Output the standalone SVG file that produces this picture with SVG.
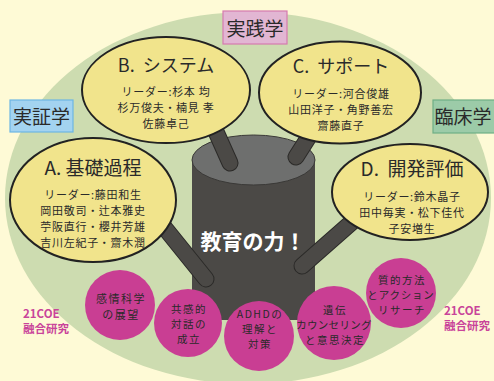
<svg xmlns="http://www.w3.org/2000/svg" width="494" height="381" viewBox="0 0 494 381">
<style>
text{font-family:"Noto Sans CJK JP","Noto Sans",sans-serif;fill:#2a2a2a;text-anchor:middle}
.node ellipse{fill:#f1e48c;stroke:#222;stroke-width:2}
.ttl{font-size:18px;white-space:pre}
.ln{font-size:11px;letter-spacing:0.7px}
.cir circle{fill:#c93e93}
.ct{font-size:10.5px;letter-spacing:1.5px}
.br{fill:none;stroke-linecap:round}
.bo{stroke:#2b2a28;stroke-width:17}
.bi{stroke:#4b4946;stroke-width:15}
.lab{font-size:19px}
.coe{font-size:11.5px;font-weight:bold;fill:#c9449a;text-anchor:start}
</style>
<rect width="494" height="381" fill="#fefad6"/>
<ellipse cx="248" cy="198" rx="243" ry="186" fill="#cddcb0"/>
<g id="trunk">
<rect x="192" y="160" width="123" height="160" fill="#4b4946"/>
<ellipse cx="253.5" cy="160" rx="61.5" ry="25" fill="#6e6f6e" stroke="#3a3937" stroke-width="1"/>
</g>
<g id="connectors">
<line class="br bo" x1="213" y1="125" x2="230" y2="163"/>
<line class="br bi" x1="213" y1="125" x2="230" y2="163"/>
<line class="br bo" x1="310" y1="135" x2="296" y2="157"/>
<line class="br bi" x1="310" y1="135" x2="296" y2="157"/>
<line class="br bo" x1="160" y1="222" x2="206" y2="279"/>
<line class="br bi" x1="160" y1="222" x2="206" y2="279"/>
<line class="br bo" x1="352" y1="222" x2="302" y2="266"/>
<line class="br bi" x1="352" y1="222" x2="302" y2="266"/>
</g>
<text x="253" y="249" style="font-size:21px;font-weight:bold;fill:#fff">教育の力！</text>
<g id="nodeB" class="node">
<ellipse cx="166" cy="90" rx="84" ry="53"/>
<text class="ttl" x="166" y="72">B.  システム</text>
<text class="ln" x="166" y="96">リーダー:杉本 均</text>
<text class="ln" x="166" y="112">杉万俊夫・楠見 孝</text>
<text class="ln" x="166" y="128">佐藤卓己</text>
</g>
<g id="nodeC" class="node">
<ellipse cx="340" cy="92.5" rx="81" ry="51"/>
<text class="ttl" x="341" y="73">C.  サポート</text>
<text class="ln" x="341" y="98">リーダー:河合俊雄</text>
<text class="ln" x="341" y="114">山田洋子・角野善宏</text>
<text class="ln" x="341" y="130">齋藤直子</text>
</g>
<g id="nodeA" class="node">
<ellipse cx="93" cy="200" rx="83" ry="62"/>
<text class="ttl" x="93" y="175" style="font-size:19px">A. 基礎過程</text>
<text class="ln" x="93" y="199">リーダー:藤田和生</text>
<text class="ln" x="93" y="215">岡田敬司・辻本雅史</text>
<text class="ln" x="93" y="231">苧阪直行・櫻井芳雄</text>
<text class="ln" x="93" y="247">吉川左紀子・齋木潤</text>
</g>
<g id="nodeD" class="node">
<ellipse cx="410" cy="192" rx="78" ry="48"/>
<text class="ttl" x="412" y="176" style="font-size:19px">D.  開発評価</text>
<text class="ln" x="412" y="201">リーダー:鈴木晶子</text>
<text class="ln" x="412" y="217">田中毎実・松下佳代</text>
<text class="ln" x="412" y="233">子安増生</text>
</g>
<g id="c1" class="cir">
<circle cx="120" cy="305" r="35"/>
<text class="ct" x="121" y="303" style="font-size:11px">感情科学</text>
<text class="ct" x="121" y="319" style="font-size:11px">の展望</text>
</g>
<g id="c2" class="cir">
<circle cx="188" cy="323" r="34"/>
<text class="ct" x="189" y="313">共感的</text>
<text class="ct" x="189" y="328">対話の</text>
<text class="ct" x="189" y="343">成立</text>
</g>
<g id="c3" class="cir">
<circle cx="259" cy="336" r="35"/>
<text class="ct" x="260" y="318">ADHDの</text>
<text class="ct" x="260" y="333">理解と</text>
<text class="ct" x="260" y="348">対策</text>
</g>
<g id="c4" class="cir">
<circle cx="334" cy="323" r="37"/>
<text class="ct" x="335" y="314">遺伝</text>
<text class="ct" x="334" y="329" style="letter-spacing:0.3px">カウンセリング</text>
<text class="ct" x="335" y="344">と意思決定</text>
</g>
<g id="c5" class="cir">
<circle cx="401" cy="293" r="35"/>
<text class="ct" x="402" y="284">質的方法</text>
<text class="ct" x="401" y="299" style="letter-spacing:0.8px">とアクション</text>
<text class="ct" x="402" y="314">リサーチ</text>
</g>
<g id="lab1">
<rect x="223" y="11" width="64" height="33" fill="#e2b6d3" stroke="#d57bb0" stroke-width="1.2"/>
<text class="lab" x="255" y="36">実践学</text>
</g>
<g id="lab2">
<rect x="10" y="100" width="63" height="32" fill="#a3d3f0" stroke="#6db6e3" stroke-width="1.2"/>
<text class="lab" x="41.5" y="124">実証学</text>
</g>
<g id="lab3">
<rect x="433" y="100" width="64" height="33" fill="#9ccba8" stroke="#6faf85" stroke-width="1.2"/>
<text class="lab" x="463" y="124">臨床学</text>
</g>
<g id="coe1">
<text class="coe" x="23" y="318">21COE</text>
<text class="coe" x="23" y="333">融合研究</text>
</g>
<g id="coe2">
<text class="coe" x="444" y="315">21COE</text>
<text class="coe" x="444" y="330">融合研究</text>
</g>
</svg>
